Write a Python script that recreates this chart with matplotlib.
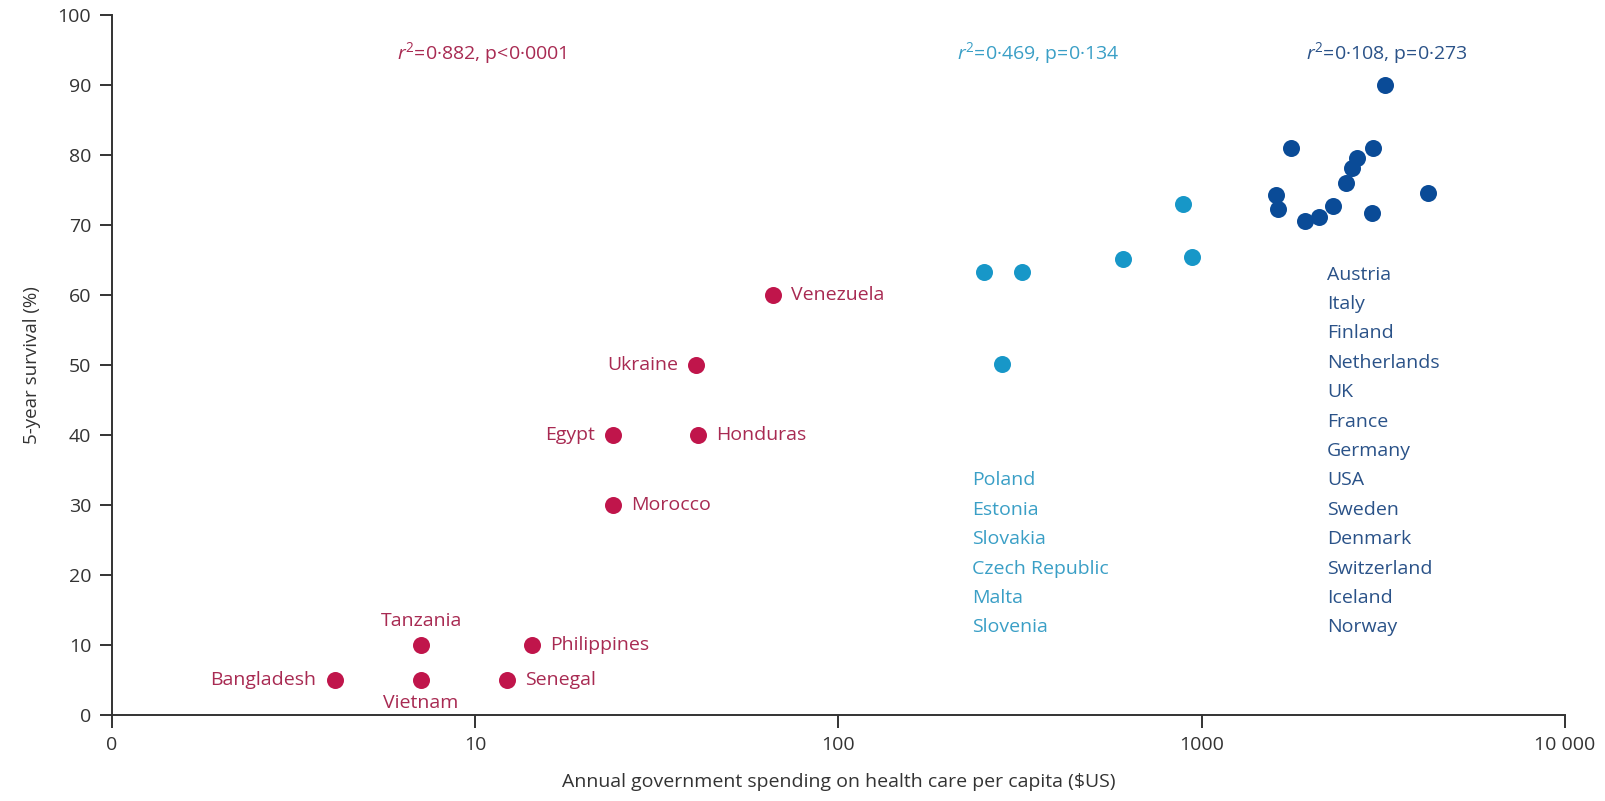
import matplotlib
matplotlib.use("Agg")
import matplotlib.pyplot as plt

plt.rcParams['font.family'] = ['Open Sans', 'DejaVu Sans']
plt.rcParams['mathtext.fontset'] = 'custom'
plt.rcParams['mathtext.rm'] = 'Open Sans'
plt.rcParams['mathtext.it'] = 'Open Sans:italic'

# low income countries (labelled next to their point)
red_names = ["Bangladesh", "Vietnam", "Tanzania", "Senegal", "Philippines",
             "Egypt", "Morocco", "Ukraine", "Honduras", "Venezuela"]
red_x = [4.1, 7.1, 7.1, 12.2, 14.3, 24, 24, 40.5, 41, 66]
red_y = [5, 5, 10, 5, 10, 40, 30, 50, 40, 60]
# where each label sits: r = right, l = left, t = top, b = bottom
red_side = ["l", "b", "t", "r", "r", "l", "r", "l", "r", "r"]

# middle income countries
lb_names = ["Poland", "Estonia", "Slovakia", "Czech Republic", "Malta", "Slovenia"]
lb_x = [251, 320, 607, 939, 887, 282]
lb_y = [63.3, 63.3, 65.1, 65.4, 73, 50.1]

# high income countries
db_names = ["Austria", "Italy", "Finland", "Netherlands", "UK", "France", "Germany",
            "USA", "Sweden", "Denmark", "Switzerland", "Iceland", "Norway"]
db_x = [3200, 1760, 2960, 2670, 2590, 2490, 1600, 1620, 1920, 2100, 2295, 2940, 4190]
db_y = [90, 81, 81, 79.6, 78.1, 76, 74.3, 72.3, 70.6, 71.1, 72.7, 71.7, 74.6]

stats = ["$\\mathit{r}^2$=0·882, p<0·0001", "$\\mathit{r}^2$=0·469, p=0·134",
         "$\\mathit{r}^2$=0·108, p=0·273"]
stats_x = [10.4, 354, 3230]

red_c, red_t = "#C0154B", "#A82A52"
lb_c, lb_t = "#1797C8", "#3A9FC6"
db_c, db_t = "#0A4B97", "#2A5288"

fig = plt.figure(figsize=(16.06, 8.01), dpi=100)
ax = fig.add_axes([0.0697, 0.1074, 0.9048, 0.8739])

ax.scatter(red_x, red_y, s=150, color=red_c, zorder=3, linewidths=0)
ax.scatter(lb_x, lb_y, s=150, color=lb_c, zorder=3, linewidths=0)
ax.scatter(db_x, db_y, s=150, color=db_c, zorder=3, linewidths=0)

offs = {"r": ((13, 0), "left", "center"), "l": ((-13, 0), "right", "center"),
        "t": ((0, 11), "center", "bottom"), "b": ((0, -10), "center", "top")}
for n, x, y, s in zip(red_names, red_x, red_y, red_side):
    o, ha, va = offs[s]
    ax.annotate(n, (x, y), xytext=o, textcoords="offset points", ha=ha, va=va,
                fontsize=14, color=red_t)

# label columns
for i, n in enumerate(lb_names):
    ax.text(233, 33.5 - i * 4.2, n, fontsize=14, color=lb_t, va="center", ha="left")
for i, n in enumerate(db_names):
    ax.text(2210, 62.9 - i * 4.2, n, fontsize=14, color=db_t, va="center", ha="left")

for t, x, c in zip(stats, stats_x, [red_t, lb_t, db_t]):
    ax.text(x, 94.6, t, fontsize=14, color=c, ha="center", va="center")

ax.set_xscale("log")
ax.set_xlim(1, 10000)
ax.set_ylim(0, 100)
ax.set_xticks([1, 10, 100, 1000, 10000])
ax.set_xticklabels(["0", "10", "100", "1000", "10 000"])
ax.minorticks_off()
ax.set_yticks(range(0, 101, 10))

for sp in ["top", "right"]:
    ax.spines[sp].set_visible(False)
for sp in ["left", "bottom"]:
    ax.spines[sp].set_linewidth(1.4)
    ax.spines[sp].set_color("#333333")
ax.tick_params(length=9, width=1.4, color="#333333", labelsize=14,
               labelcolor="#333333", pad=6)

ax.set_xlabel("Annual government spending on health care per capita ($US)",
              fontsize=14, color="#333333", labelpad=14)
ax.set_ylabel("5-year survival (%)", fontsize=13.5, color="#333333", labelpad=12)

fig.savefig("out.png", dpi=100)
